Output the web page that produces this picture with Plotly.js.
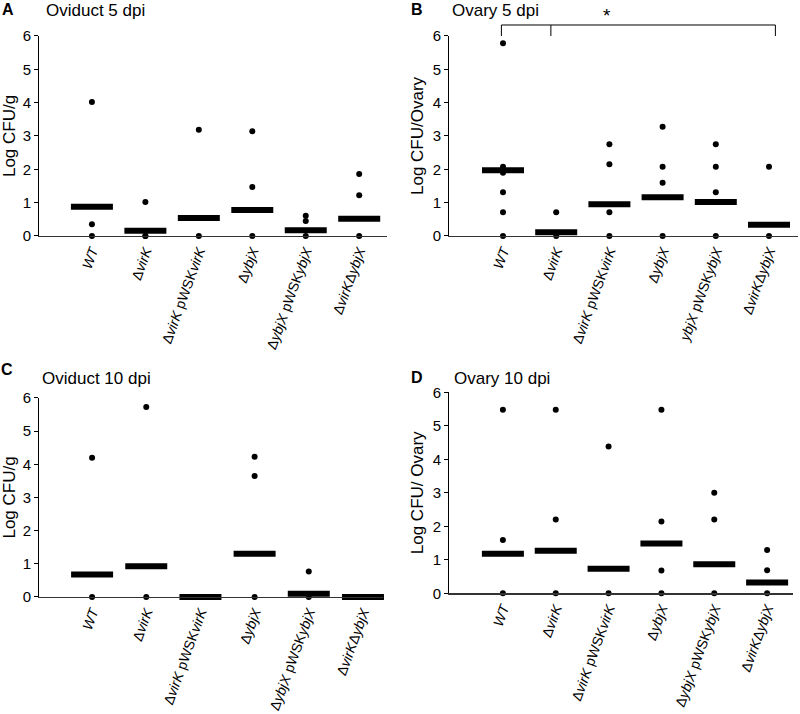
<!DOCTYPE html>
<html>
<head>
<meta charset="utf-8">
<script src="https://cdn.plot.ly/plotly-3.0.1.min.js"></script>
<style>html,body{margin:0;padding:0;background:#fff;}#chart{width:800px;height:714px;}</style>
</head>
<body>
<div id="chart"></div>
<script>
// Tick labels (categories)
const labelsStd = ['<i>WT</i>', 'Δ<i>virK</i>', 'Δ<i>virK</i> pWSK<i>virK</i>', 'Δ<i>ybjX</i>', 'Δ<i>ybjX</i> pWSK<i>ybjX</i>', 'Δ<i>virK</i>Δ<i>ybjX</i>'];
const labelsB = ['<i>WT</i>', 'Δ<i>virK</i>', 'Δ<i>virK</i> pWSK<i>virK</i>', 'Δ<i>ybjX</i>', '<i>ybjX</i> pWSK<i>ybjX</i>', 'Δ<i>virK</i>Δ<i>ybjX</i>'];

// Panel A: Oviduct 5 dpi
const oviduct5Points = [[4.02, 0.35, 0], [1.02, 0, 0], [3.19, 0], [3.14, 1.47, 0], [0.61, 0.45, 0], [1.86, 1.22, 0]];
const oviduct5Medians = [0.88, 0.16, 0.54, 0.78, 0.17, 0.52];
// Panel B: Ovary 5 dpi
const ovary5Points = [[5.78, 2.08, 1.9, 1.31, 0.71, 0], [0.71, 0], [2.75, 2.15, 0.71, 0], [3.28, 2.08, 1.6, 0], [2.75, 2.08, 1.31, 0], [2.08, 0]];
const ovary5Medians = [1.97, 0.11, 0.95, 1.16, 1.02, 0.34];
// Panel C: Oviduct 10 dpi
const oviduct10Points = [[4.2, 0], [5.73, 0], [0], [4.23, 3.65, 0], [0.77, 0], [0]];
const oviduct10Medians = [0.68, 0.93, 0, 1.3, 0.1, 0];
// Panel D: Ovary 10 dpi
const ovary10Points = [[5.48, 1.59, 0], [5.48, 2.2, 0], [4.38, 0], [5.48, 2.14, 0.68, 0], [3.0, 2.2, 0], [1.29, 0.69, 0]];
const ovary10Medians = [1.18, 1.27, 0.73, 1.49, 0.87, 0.32];

const panels = [
  {pts: oviduct5Points, med: oviduct5Medians, labels: labelsStd, xa: 'x', ya: 'y'},
  {pts: ovary5Points, med: ovary5Medians, labels: labelsB, xa: 'x2', ya: 'y2'},
  {pts: oviduct10Points, med: oviduct10Medians, labels: labelsStd, xa: 'x3', ya: 'y3'},
  {pts: ovary10Points, med: ovary10Medians, labels: labelsStd, xa: 'x4', ya: 'y4'}
];

const traces = [];
panels.forEach(p => {
  traces.push({
    type: 'scatter', mode: 'markers', xaxis: p.xa, yaxis: p.ya,
    x: p.labels, y: p.med, cliponaxis: false, hoverinfo: 'y',
    marker: {symbol: 'line-ew', size: 30, color: '#000', line: {width: 6, color: '#000'}}
  });
  const xs = [], ys = [];
  p.pts.forEach((arr, i) => arr.forEach(v => { xs.push(p.labels[i]); ys.push(v); }));
  traces.push({
    type: 'scatter', mode: 'markers', xaxis: p.xa, yaxis: p.ya,
    x: xs, y: ys, cliponaxis: false, hoverinfo: 'y',
    marker: {symbol: 'circle', size: 6, color: '#000'}
  });
});

const font = {family: 'Liberation Sans, Arial, sans-serif', color: '#000'};
function xaxis(domain, range, labels, anchor) {
  return {
    domain: domain, anchor: anchor, type: 'category', categoryarray: labels, categoryorder: 'array',
    range: range, showline: true, linecolor: '#333', linewidth: 1.5, ticks: '', showgrid: false,
    zeroline: false, tickangle: -70, tickfont: {size: 14, family: font.family, color: '#000'}, automargin: false
  };
}
function yaxis(domain, anchor, title) {
  return {
    domain: domain, anchor: anchor, range: [0, 6], dtick: 1, showline: true, linecolor: '#000', linewidth: 1,
    ticks: 'outside', ticklen: 4, tickcolor: '#000', showgrid: false, zeroline: false,
    tickfont: {size: 15, family: font.family, color: '#000'}, automargin: false,
    title: {text: title, font: {size: 17, family: font.family, color: '#000'}, standoff: 4}
  };
}

const ann = (text, x, y, size, bold, anchor) => ({
  text: bold ? '<b>' + text + '</b>' : text, xref: 'paper', yref: 'paper', x: x, y: y,
  xanchor: 'left', yanchor: anchor || 'middle', borderpad: 0, showarrow: false,
  font: {size: size, family: font.family, color: '#000'}
});

const layout = {
  width: 800, height: 714, margin: {l: 0, r: 0, t: 0, b: 0}, showlegend: false,
  paper_bgcolor: '#fff', plot_bgcolor: '#fff', font: font,
  xaxis: xaxis([0.04875, 0.48375], [-0.99, 5.52], labelsStd, 'y'),
  yaxis: yaxis([0.6695, 0.9496], 'x', 'Log CFU/g'),
  xaxis2: xaxis([0.56125, 0.9975], [-1.015, 5.545], labelsB, 'y2'),
  yaxis2: yaxis([0.6695, 0.9496], 'x2', 'Log CFU/Ovary'),
  xaxis3: xaxis([0.04875, 0.47875], [-0.98, 5.37], labelsStd, 'y3'),
  yaxis3: yaxis([0.1639, 0.4426], 'x3', 'Log CFU/g'),
  xaxis4: xaxis([0.56125, 0.99125], [-1.02, 5.49], labelsStd, 'y4'),
  yaxis4: yaxis([0.169, 0.4506], 'x4', 'Log CFU/ Ovary'),
  annotations: [
    ann('A', 1 / 800, 1, 16, true, 'top'),
    ann('Oviduct 5 dpi', 45 / 800, 1, 17, false, 'top'),
    ann('B', 410 / 800, 1, 16, true, 'top'),
    ann('Ovary 5 dpi', 451 / 800, 1, 17, false, 'top'),
    ann('C', 0 / 800, 1 - 369 / 714, 16, true),
    ann('Oviduct 10 dpi', 41 / 800, 1 - 378 / 714, 17, false),
    ann('D', 410 / 800, 1 - 377 / 714, 16, true),
    ann('Ovary 10 dpi', 453 / 800, 1 - 378 / 714, 17, false),
    {text: '*', xref: 'x2', yref: 'y2 domain', x: 1.95, y: 1.1, showarrow: false,
     xanchor: 'center', yanchor: 'middle', font: {size: 19, family: font.family, color: '#000'}}
  ],
  shapes: [
    {type: 'line', xref: 'x2', yref: 'y2 domain', x0: -0.03, x1: 5.12, y0: 1.055, y1: 1.055, line: {color: '#000', width: 1}},
    {type: 'line', xref: 'x2', yref: 'y2 domain', x0: -0.03, x1: -0.03, y0: 1.055, y1: 1.0, line: {color: '#000', width: 1}},
    {type: 'line', xref: 'x2', yref: 'y2 domain', x0: 0.9, x1: 0.9, y0: 1.055, y1: 1.0, line: {color: '#000', width: 1}},
    {type: 'line', xref: 'x2', yref: 'y2 domain', x0: 5.12, x1: 5.12, y0: 1.055, y1: 1.0, line: {color: '#000', width: 1}}
  ]
};

Plotly.newPlot('chart', traces, layout, {displayModeBar: false, staticPlot: true});
</script>
</body>
</html>
